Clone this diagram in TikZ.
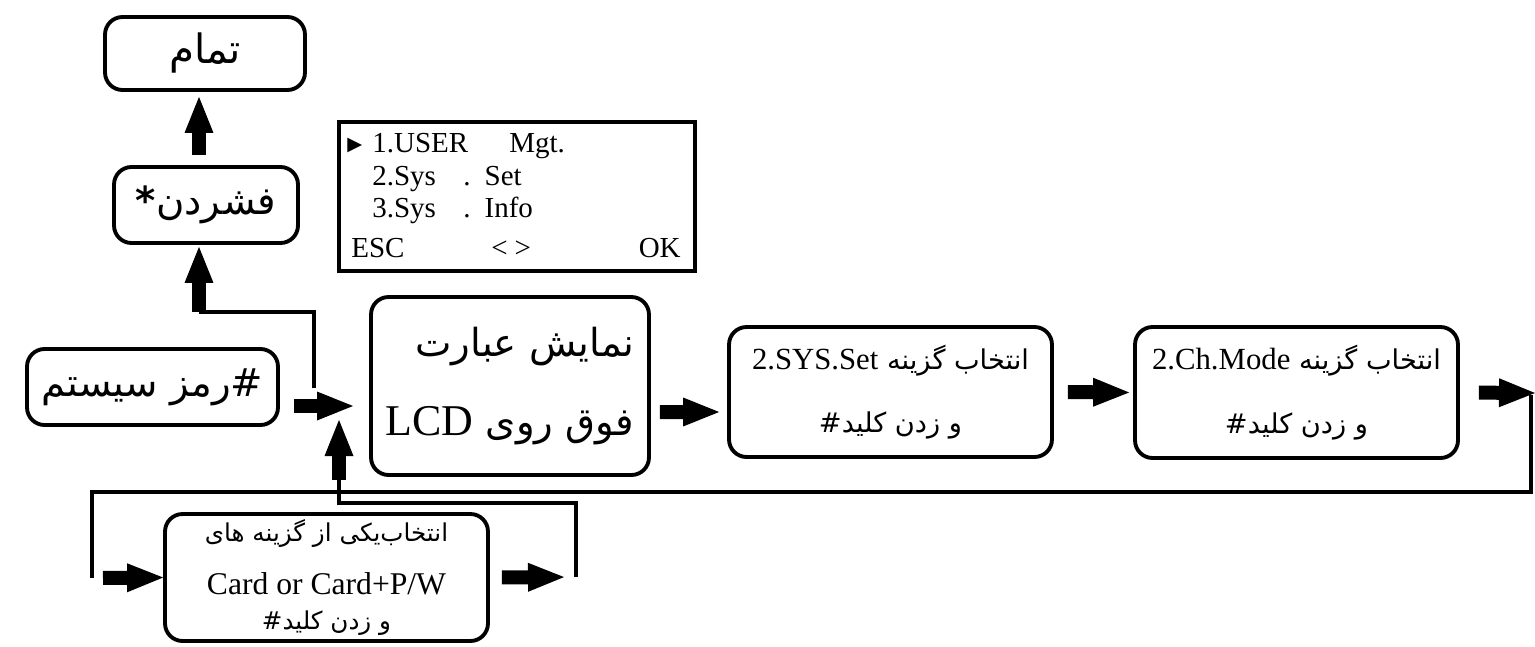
\documentclass[tikz,border=0pt]{standalone}
\usepackage{fontspec}
\setmainfont{Liberation Serif}
\newfontfamily\farsi[Script=Arabic]{DejaVu Sans}
\newfontfamily\symbfont{DejaVu Sans}
\TeXXeTstate=1
\usetikzlibrary{arrows.meta}
\newcommand{\fa}[1]{{\farsi\beginR #1\endR}}
\newcommand{\en}[1]{\beginL{\rmfamily #1}\endL}
\tikzset{
  box/.style={draw, line width=2.2pt, rounded corners=0.35cm, align=center, inner sep=2pt},
  link/.style={line width=2.2pt},
  blockarrow/.style={line width=0.28cm, -{Triangle[length=0.72cm,width=0.58cm,line width=0pt]}},
  screentext/.style={anchor=base west, inner sep=0pt, font=\fontsize{16.5}{19}\selectfont},
}
\begin{document}
\begin{tikzpicture}[x=0.02cm,y=-0.02cm]
\useasboundingbox (0,0) rectangle (1535,646);
% boxes
\node[box, minimum width=4cm, minimum height=1.46cm, font=\fontsize{23}{26}\selectfont] (done) at (205,53.5) {\fa{تمام}};
\node[box, minimum width=3.68cm, minimum height=1.52cm, font=\fontsize{22}{26}\selectfont] (star) at (206,205) {\fa{فشردن{\bfseries *}}};
\node[box, minimum width=5.02cm, minimum height=1.52cm, font=\fontsize{22}{26}\selectfont] (pass) at (152.5,387) {\fa{\#رمز سیستم}};
\node[box, align=right, minimum width=5.56cm, minimum height=3.56cm, font=\fontsize{22}{45}\selectfont] (lcd) at (510,386) {\fa{نمایش عبارت}\\\fa{فوق روی \en{\fontsize{25}{45}\selectfont LCD}}};
\node[box, minimum width=6.46cm, minimum height=2.6cm, font=\fontsize{15.5}{36}\selectfont] (sysset) at (890.5,392) {\fa{انتخاب گزینه \en{\fontsize{17.5}{36}\selectfont 2.SYS.Set}}\\\fa{و زدن کلید\#}};
\node[box, minimum width=6.46cm, minimum height=2.62cm, font=\fontsize{15.5}{36}\selectfont] (chmode) at (1296.5,392.5) {\fa{انتخاب گزینه \en{\fontsize{17.5}{36}\selectfont 2.Ch.Mode}}\\\fa{و زدن کلید\#}};
\node[box, minimum width=6.46cm, minimum height=2.54cm, font=\fontsize{14}{25}\selectfont] (card) at (326.5,577.5) {\fa{انتخاب‌یکی از گزینه های}\\[5pt]{\fontsize{18}{22}\selectfont Card or Card+P/W}\\[-5pt]\fa{و زدن کلید\#}};

% lcd screen
\node[draw, line width=2.6pt, minimum width=7.12cm, minimum height=2.98cm] (screen) at (517,196.5) {};
\node[screentext, font=\symbfont\fontsize{11}{12}\selectfont] (s0) at (347,150) {▶};
\node[screentext] (s1) at (372,152) {1.USER};
\node[screentext] (s2) at (509,152) {Mgt.};
\node[screentext] (s3) at (372,185) {2.Sys};
\node[screentext] (s4) at (463,185) {.\hspace{8pt}Set};
\node[screentext] (s5) at (372,217) {3.Sys};
\node[screentext] (s6) at (463,217) {.\hspace{8pt}Info};
\node[screentext] (s7) at (351,257) {ESC};
\node[screentext] (s8) at (491,257) {<\hspace{4pt}>};
\node[screentext, anchor=base east] (s9) at (681,257) {OK};

% corners of the lines
\coordinate (a1) at (314,388);
\coordinate (a2) at (199,312);
\coordinate (m1) at (353,406);
\coordinate (c1) at (576,577);
\coordinate (c2) at (339,503);
\coordinate (c3) at (339,480);
\coordinate (m2) at (339,420);
\coordinate (o1) at (1535,393);
\coordinate (b1) at (1531,395);
\coordinate (b2) at (92,578);
\coordinate (b3) at (92,492);

\draw[link] (a1) |- (a2);
\draw[link] (c1) |- (c2) -- (c3);
\draw[link] (b1) |- (b3) -- (b2);

% block arrows
\draw[blockarrow, shorten <=0.2cm, shorten >=0.1cm] (a2 |- star.north) -- (a2 |- done.south);
\draw[blockarrow, shorten >=0.04cm] (a2) -- (a2 |- star.south);
\draw[blockarrow, shorten <=0.28cm] (pass.east |- m1) -- (m1);
\draw[blockarrow] (c3) -- (m2);
\draw[blockarrow, shorten <=0.18cm, shorten >=0.16cm] ([yshift=-0.52cm]lcd.east) -- ([yshift=-0.4cm]sysset.west);
\draw[blockarrow, shorten <=0.28cm, shorten >=0.08cm] (sysset.east) -- (chmode.west);
\draw[blockarrow, shorten <=0.38cm] (chmode.east) -- (o1);
\draw[blockarrow, shorten <=0.22cm] (b2) -- (card.west);
\draw[blockarrow, shorten <=0.24cm, shorten >=0.24cm] (card.east) -- (c1);
\end{tikzpicture}
\end{document}
